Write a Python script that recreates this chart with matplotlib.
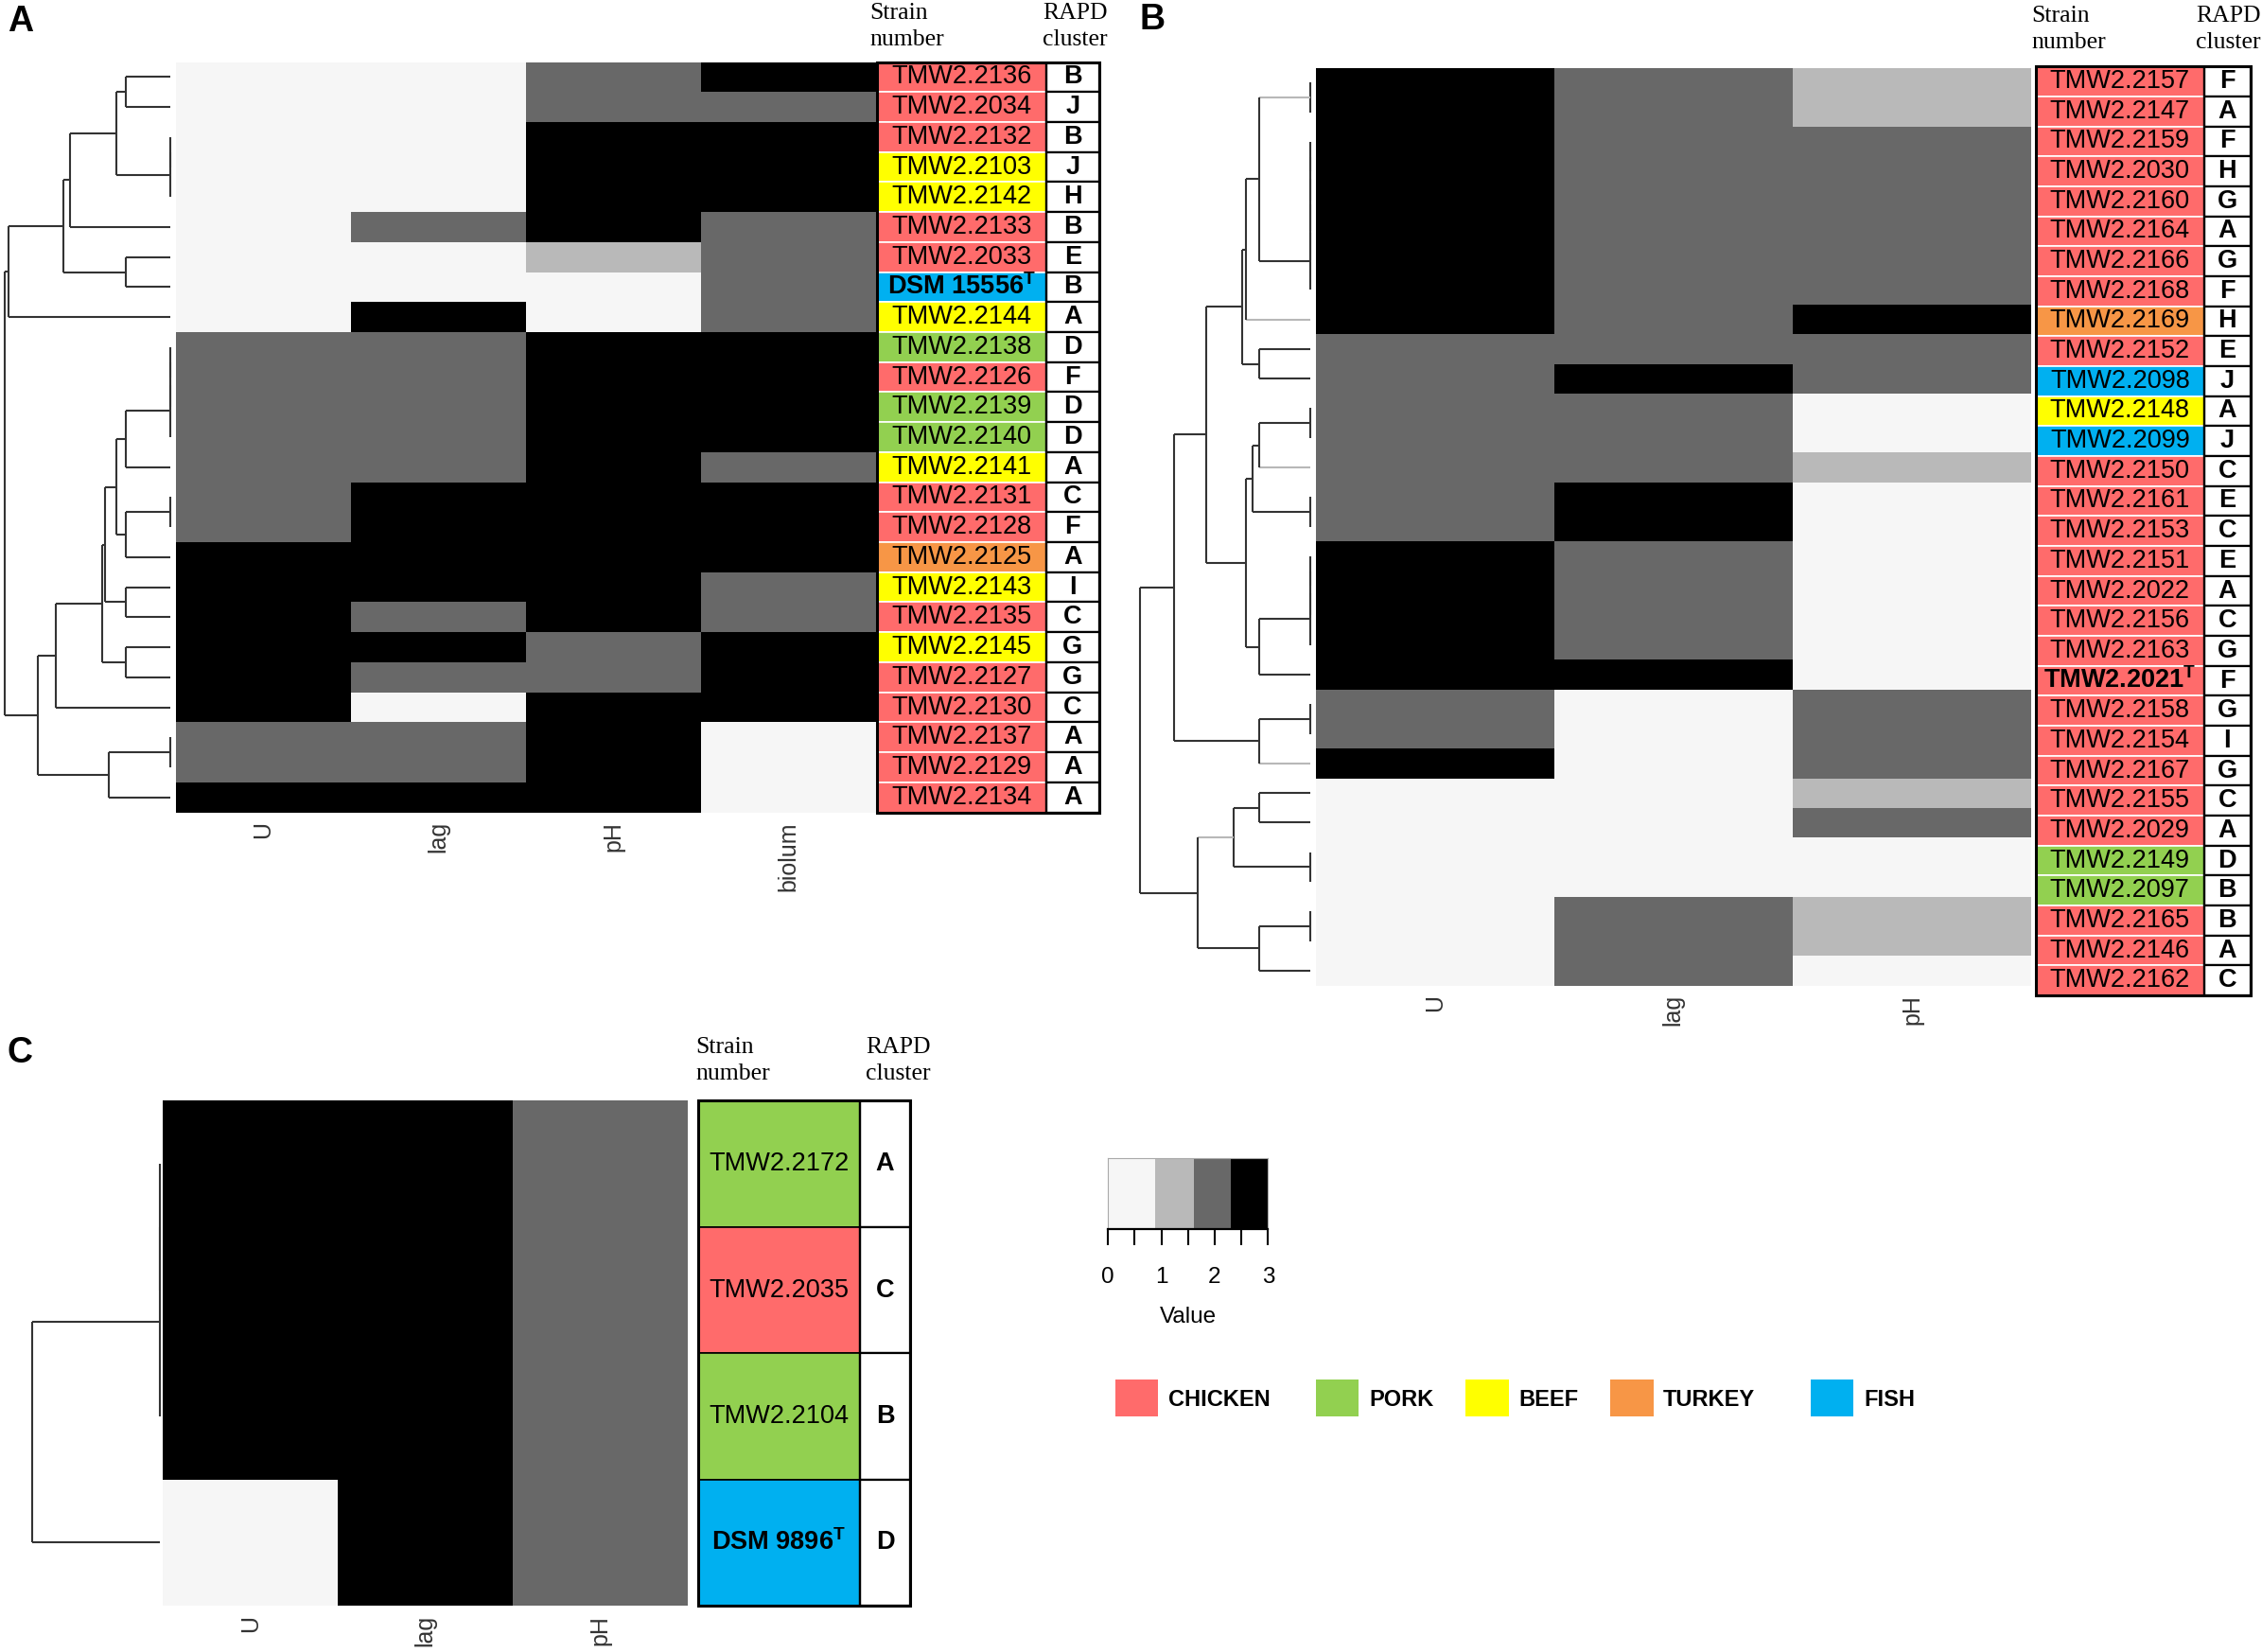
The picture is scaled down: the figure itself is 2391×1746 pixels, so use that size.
import matplotlib
matplotlib.use('Agg')
import matplotlib.pyplot as plt
import numpy as np
from matplotlib.colors import ListedColormap, BoundaryNorm
from matplotlib.patches import Rectangle

plt.rcParams['font.family'] = ['Liberation Sans', 'DejaVu Sans']
plt.rcParams['mathtext.fontset'] = 'custom'
plt.rcParams['mathtext.rm'] = 'Liberation Sans'
plt.rcParams['mathtext.bf'] = 'Liberation Sans:bold'

# ---- data ----
grey_levels = ['#f6f6f6', '#b9b9b9', '#686868', '#000000']
key_breaks = [0, 0.89, 1.61, 2.3, 3]

source_names = ['CHICKEN', 'PORK', 'BEEF', 'TURKEY', 'FISH']
source_colors = ['#ff6b6b', '#92d050', '#ffff00', '#f79646', '#00b0f0']
type_strains = ['DSM 15556', 'TMW2.2021', 'DSM 9896']

# panel A
a_columns = ['U', 'lag', 'pH', 'biolum']
a_strains = ['TMW2.2136', 'TMW2.2034', 'TMW2.2132', 'TMW2.2103', 'TMW2.2142',
             'TMW2.2133', 'TMW2.2033', 'DSM 15556', 'TMW2.2144', 'TMW2.2138',
             'TMW2.2126', 'TMW2.2139', 'TMW2.2140', 'TMW2.2141', 'TMW2.2131',
             'TMW2.2128', 'TMW2.2125', 'TMW2.2143', 'TMW2.2135', 'TMW2.2145',
             'TMW2.2127', 'TMW2.2130', 'TMW2.2137', 'TMW2.2129', 'TMW2.2134']
a_sources = ['CHICKEN', 'CHICKEN', 'CHICKEN', 'BEEF', 'BEEF',
             'CHICKEN', 'CHICKEN', 'FISH', 'BEEF', 'PORK',
             'CHICKEN', 'PORK', 'PORK', 'BEEF', 'CHICKEN',
             'CHICKEN', 'TURKEY', 'BEEF', 'CHICKEN', 'BEEF',
             'CHICKEN', 'CHICKEN', 'CHICKEN', 'CHICKEN', 'CHICKEN']
a_rapd = ['B', 'J', 'B', 'J', 'H', 'B', 'E', 'B', 'A', 'D', 'F', 'D', 'D',
          'A', 'C', 'F', 'A', 'I', 'C', 'G', 'G', 'C', 'A', 'A', 'A']
a_values = [[0, 0, 2, 3], [0, 0, 2, 2], [0, 0, 3, 3], [0, 0, 3, 3], [0, 0, 3, 3],
            [0, 2, 3, 2], [0, 0, 1, 2], [0, 0, 0, 2], [0, 3, 0, 2], [2, 2, 3, 3],
            [2, 2, 3, 3], [2, 2, 3, 3], [2, 2, 3, 3], [2, 2, 3, 2], [2, 3, 3, 3],
            [2, 3, 3, 3], [3, 3, 3, 3], [3, 3, 3, 2], [3, 2, 3, 2], [3, 3, 2, 3],
            [3, 2, 2, 3], [3, 0, 3, 3], [2, 2, 3, 0], [2, 2, 3, 0], [3, 3, 3, 0]]
# merges: (child a, child b, height); clusters numbered n, n+1, ...
a_merges = [(0, 1, 47), (2, 3, 0), (26, 4, 0), (25, 27, 57), (28, 5, 107),
            (6, 7, 47), (29, 30, 114), (31, 8, 173),
            (9, 10, 0), (33, 11, 0), (34, 12, 0), (35, 13, 47), (14, 15, 0),
            (37, 16, 47), (36, 38, 57), (17, 18, 47), (39, 40, 70), (19, 20, 47),
            (41, 42, 73), (43, 21, 122), (22, 23, 0), (45, 24, 66),
            (44, 46, 141), (32, 47, 177)]

# panel B
b_columns = ['U', 'lag', 'pH']
b_strains = ['TMW2.2157', 'TMW2.2147', 'TMW2.2159', 'TMW2.2030', 'TMW2.2160',
             'TMW2.2164', 'TMW2.2166', 'TMW2.2168', 'TMW2.2169', 'TMW2.2152',
             'TMW2.2098', 'TMW2.2148', 'TMW2.2099', 'TMW2.2150', 'TMW2.2161',
             'TMW2.2153', 'TMW2.2151', 'TMW2.2022', 'TMW2.2156', 'TMW2.2163',
             'TMW2.2021', 'TMW2.2158', 'TMW2.2154', 'TMW2.2167', 'TMW2.2155',
             'TMW2.2029', 'TMW2.2149', 'TMW2.2097', 'TMW2.2165', 'TMW2.2146',
             'TMW2.2162']
b_sources = ['CHICKEN'] * 8 + ['TURKEY', 'CHICKEN', 'FISH', 'BEEF', 'FISH'] + \
            ['CHICKEN'] * 13 + ['PORK', 'PORK'] + ['CHICKEN'] * 3
b_rapd = ['F', 'A', 'F', 'H', 'G', 'A', 'G', 'F', 'H', 'E', 'J', 'A', 'J', 'C',
          'E', 'C', 'E', 'A', 'C', 'G', 'F', 'G', 'I', 'G', 'C', 'A', 'D', 'B',
          'B', 'A', 'C']
b_u = [3] * 9 + [2] * 7 + [3] * 5 + [2, 2, 3] + [0] * 7
b_lag = [2] * 10 + [3] + [2] * 3 + [3, 3] + [2] * 4 + [3] + [0] * 7 + [2] * 3
b_ph = [1, 1] + [2] * 6 + [3, 2, 2, 0, 0, 1] + [0] * 7 + [2, 2, 2, 1, 2, 0, 0, 1, 1, 0]
b_merges = [(0, 1, 0), (2, 3, 0), (32, 4, 0), (33, 5, 0), (34, 6, 0), (35, 7, 0),
            (31, 36, 158), (37, 8, 200), (9, 10, 160), (38, 39, 213),
            (11, 12, 0), (41, 13, 158), (14, 15, 0), (42, 43, 181),
            (16, 17, 0), (45, 18, 0), (46, 19, 0), (47, 20, 160), (44, 48, 202),
            (40, 49, 326), (21, 22, 0), (51, 23, 160), (50, 52, 427),
            (24, 25, 160), (26, 27, 0), (54, 55, 240), (28, 29, 0), (57, 30, 160),
            (56, 58, 352), (53, 59, 535)]
b_grey_links = [31, 8, 13, 23, 56]

# panel C
c_columns = ['U', 'lag', 'pH']
c_strains = ['TMW2.2172', 'TMW2.2035', 'TMW2.2104', 'DSM 9896']
c_sources = ['PORK', 'CHICKEN', 'PORK', 'FISH']
c_rapd = ['A', 'C', 'B', 'D']
c_values = [[3, 3, 2], [3, 3, 2], [3, 3, 2], [0, 3, 2]]
c_merges = [(0, 1, 0), (4, 2, 0), (5, 3, 132)]

# ---- layout helpers (positions measured on a 1568 x 1145 grid) ----
W, H = 1568.0, 1145.0
fig = plt.figure(figsize=(23.91, 17.46), dpi=100)

cmap = ListedColormap(grey_levels)
norm = BoundaryNorm([-0.5, 0.5, 1.5, 2.5, 3.5], 4)


def box(x0, y0, x1, y1):
    return [x0 / W, 1 - y1 / H, (x1 - x0) / W, (y1 - y0) / H]


def label_text(name):
    if name in type_strains:
        return name + r'$^{\mathbf{T}}$', 'bold'
    return name, 'normal'


def draw_dendrogram(rect, merges, n, grey=()):
    ax = fig.add_axes(rect)
    pos = {i: i + 0.5 for i in range(n)}
    hgt = {i: 0.0 for i in range(n)}
    for k, (a, b, h) in enumerate(merges):
        for child in (a, b):
            col = '#b8b8b8' if child in grey else '#333333'
            ax.plot([hgt[child], h], [pos[child], pos[child]], color=col,
                    lw=1.5, clip_on=False, solid_capstyle='butt')
        ax.plot([h, h], [pos[a], pos[b]], color='#333333', lw=1.5,
                clip_on=False, solid_capstyle='butt')
        pos[n + k] = (pos[a] + pos[b]) / 2
        hgt[n + k] = h
    ax.set_ylim(n, 0)
    ax.set_xlim(merges[-1][2], 0)
    ax.axis('off')


def draw_heat(rect, values, columns):
    ax = fig.add_axes(rect)
    ax.pcolormesh(np.array(values), cmap=cmap, norm=norm)
    ax.set_ylim(len(values), 0)
    ax.set_xticks(np.arange(len(columns)) + 0.5)
    ax.set_xticklabels(columns, rotation=90, fontsize=18, color='#333333')
    ax.tick_params(length=0, pad=7)
    ax.set_yticks([])
    for s in ax.spines.values():
        s.set_visible(False)


def draw_table(rect, strains, sources, rapd, split, sep='white'):
    ax = fig.add_axes(rect)
    n = len(strains)
    for i in range(n):
        col = source_colors[source_names.index(sources[i])]
        ax.add_patch(Rectangle((0, i), split, 1, facecolor=col,
                               edgecolor=sep, lw=1.2))
        ax.add_patch(Rectangle((split, i), 1 - split, 1, facecolor='white',
                               edgecolor='black', lw=1.6))
        txt, wt = label_text(strains[i])
        ax.text(split / 2, i + 0.5, txt, ha='center', va='center',
                fontsize=19.5, fontweight=wt)
        ax.text(split + (1 - split) / 2, i + 0.5, rapd[i], ha='center',
                va='center', fontsize=19.5, fontweight='bold')
    ax.add_patch(Rectangle((0, 0), 1, n, facecolor='none', edgecolor='black',
                           lw=2.2, clip_on=False))
    ax.plot([split, split], [0, n], color='black', lw=1.6)
    ax.set_xlim(0, 1)
    ax.set_ylim(n, 0)
    ax.axis('off')


def headers(x_strain, x_rapd, y_top):
    for x, txt in [(x_strain, 'Strain\nnumber'), (x_rapd, 'RAPD\ncluster')]:
        fig.text(x / W, 1 - y_top / H, txt, ha='left', va='top', fontsize=18.5,
                 family='Liberation Serif', linespacing=1.35)


# panel A
fig.text(5 / W, 1 - 15 / H, 'A', fontsize=27, fontweight='bold', va='center')
draw_dendrogram(box(3, 43, 118, 563), a_merges, len(a_strains))
draw_heat(box(122, 43, 607, 563), a_values, a_columns)
draw_table(box(608, 43, 762, 563), a_strains, a_sources, a_rapd, 117 / 154)
headers(603, 723, 2)

# panel B
b_values = np.column_stack([b_u, b_lag, b_ph])
fig.text(790 / W, 1 - 14 / H, 'B', fontsize=27, fontweight='bold', va='center')
draw_dendrogram(box(790, 47, 908, 683), b_merges, len(b_strains), b_grey_links)
draw_heat(box(912, 47, 1408, 683), b_values, b_columns)
draw_table(box(1411, 46, 1560, 690), b_strains, b_sources, b_rapd, 117 / 149)
headers(1408, 1522, 4)

# panel C
fig.text(5 / W, 1 - 730 / H, 'C', fontsize=27, fontweight='bold', va='center')
draw_dendrogram(box(22, 763, 111, 1113), c_merges, len(c_strains))
draw_heat(box(113, 763, 477, 1113), c_values, c_columns)
draw_table(box(484, 763, 631, 1113), c_strains, c_sources, c_rapd, 112 / 147,
           sep='black')
headers(482, 600, 719)

# colour key
kax = fig.add_axes(box(768, 803, 879, 852))
kax.pcolormesh(key_breaks, [0, 1], [[0, 1, 2, 3]], cmap=cmap, norm=norm)
kax.set_xlim(0, 3)
kax.set_ylim(0, 1)
kax.set_yticks([])
kax.set_xticks([0, 1, 2, 3])
kax.set_xticks([0.5, 1.5, 2.5], minor=True)
kax.tick_params(axis='x', which='both', direction='out', length=12, width=1.5,
                pad=17, labelsize=17.5)
for side in ['top', 'left', 'right']:
    kax.spines[side].set_color('#aaaaaa')
kax.spines['bottom'].set_linewidth(1.6)
kax.set_xlabel('Value', fontsize=17.5, labelpad=14)

# source legend
legend_x = [773, 912, 1016, 1116, 1255]
for name, col, x in zip(source_names, source_colors, legend_x):
    fig.add_artist(Rectangle((x / W, 1 - 982 / H), 30 / W, 26 / H,
                             transform=fig.transFigure, facecolor=col,
                             edgecolor='none'))
    fig.text((x + 37) / W, 1 - 970 / H, name, fontsize=17, fontweight='bold',
             va='center', ha='left')

fig.savefig('out.png', dpi=100)
